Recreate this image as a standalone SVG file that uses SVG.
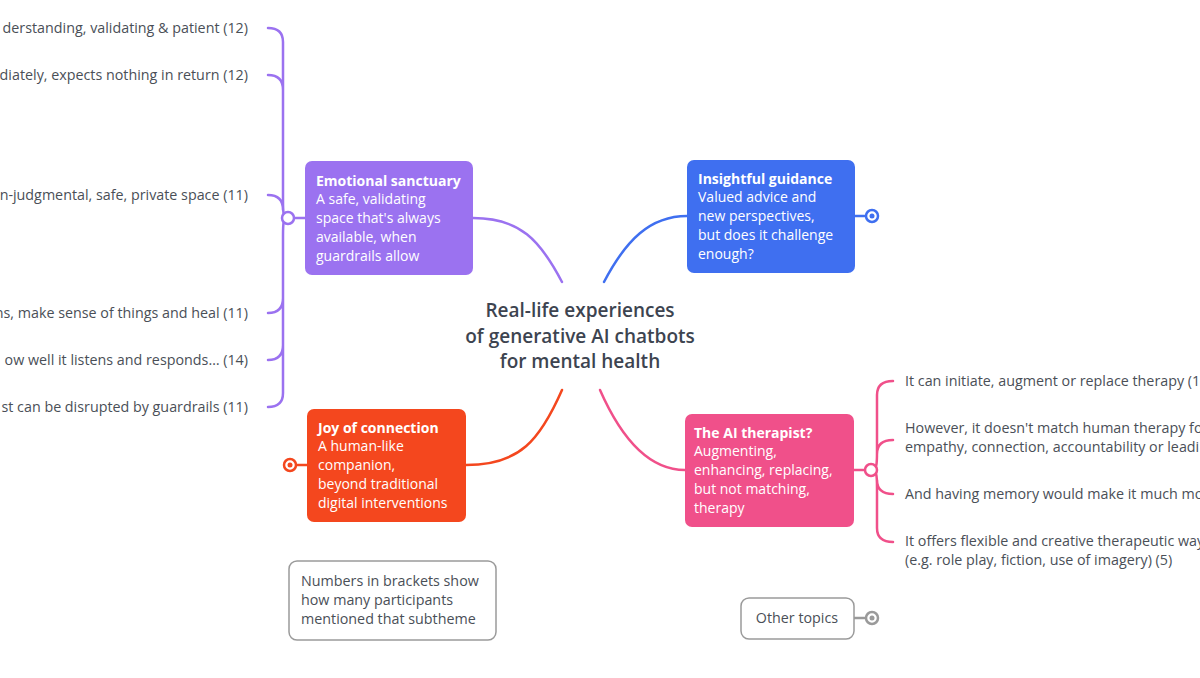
<svg xmlns="http://www.w3.org/2000/svg" width="1200" height="678" viewBox="0 0 1200 678">
<style>
text{font-family:"Open Sans",Lato,sans-serif;}
.it{font-size:14.3px;fill:#4a4f57;}
.ti{font-size:14px;fill:#fff;font-weight:bold;}
.bd{font-size:14px;fill:#fff;}
.c{fill:none;stroke-width:2.5;stroke-linecap:round;}
.hub{fill:#fff;stroke-width:2.5;}
</style>
<rect width="1200" height="678" fill="#fff"/>
<g id="connectors">
<path class="c" stroke="#9b72f0" d="M562,282 C540,240 520,218 473,218"/>
<path class="c" stroke="#3f6ff0" d="M604,282 C626,240 650,216 687,216"/>
<path class="c" stroke="#f4471e" d="M562,390 C540,440 520,465 466,465"/>
<path class="c" stroke="#f0508a" d="M600,390 C622,440 650,470 685,470"/>
<path class="c" stroke="#9b72f0" d="M305,218 H288"/>
<path class="c" stroke="#9b72f0" d="M288,218 C283,218 283,212 283,200 V42 Q283,28 268,28 M283,90 Q283,75 268,75 M283,210 Q283,195 268,195 M288,218 C283,218 283,224 283,236 V393 Q283,407 268,407 M283,298 Q283,313 268,313 M283,345 Q283,360 268,360"/>
<path class="c" stroke="#3f6ff0" d="M855,216 H866"/>
<path class="c" stroke="#f4471e" d="M307,465 H296"/>
<path class="c" stroke="#f0508a" d="M854,470 H871"/>
<path class="c" stroke="#f0508a" d="M871,470 C877,470 877,464 877,452 V395 Q877,381 893,381 M877,454 Q877,440 893,440 M871,470 C877,470 877,476 877,488 V528 Q877,542 893,542 M877,480 Q877,494 893,494"/>
<path class="c" stroke="#9a9a9a" d="M854,618 H866"/>
</g>
<g id="center">
<text x="580" y="317" text-anchor="middle" font-size="19" font-weight="600" fill="#3d4450">Real-life experiences</text>
<text x="580" y="343" text-anchor="middle" font-size="19" font-weight="600" fill="#3d4450">of generative AI chatbots</text>
<text x="580" y="368" text-anchor="middle" font-size="19" font-weight="600" fill="#3d4450">for mental health</text>
</g>
<g id="emotional">
<rect x="305" y="161" width="168" height="114" rx="7" fill="#9b72f0"/>
<text class="ti" x="316" y="186">Emotional sanctuary</text>
<text class="bd" x="316" y="204">A safe, validating</text>
<text class="bd" x="316" y="223">space that's always</text>
<text class="bd" x="316" y="242">available, when</text>
<text class="bd" x="316" y="261">guardrails allow</text>
<circle class="hub" cx="288" cy="218" r="6" stroke="#9b72f0"/>
</g>
<g id="emotional-items">
<text class="it" x="248" y="33" text-anchor="end">derstanding, validating &amp; patient (12)</text>
<text class="it" x="248" y="80" text-anchor="end">diately, expects nothing in return (12)</text>
<text class="it" x="248" y="200" text-anchor="end">n-judgmental, safe, private space (11)</text>
<text class="it" x="248" y="318" text-anchor="end">ns, make sense of things and heal (11)</text>
<text class="it" x="248" y="365" text-anchor="end">ow well it listens and responds… (14)</text>
<text class="it" x="248" y="412" text-anchor="end">st can be disrupted by guardrails (11)</text>
</g>
<g id="insightful">
<rect x="687" y="160" width="168" height="113" rx="7" fill="#3f6ff0"/>
<text class="ti" x="698" y="184">Insightful guidance</text>
<text class="bd" x="698" y="202">Valued advice and</text>
<text class="bd" x="698" y="221">new perspectives,</text>
<text class="bd" x="698" y="240">but does it challenge</text>
<text class="bd" x="698" y="259">enough?</text>
<circle class="hub" cx="872" cy="216" r="6" stroke="#3f6ff0"/>
<circle cx="872" cy="216" r="2.5" fill="#3f6ff0"/>
</g>
<g id="joy">
<rect x="307" y="409" width="159" height="113" rx="7" fill="#f4471e"/>
<text class="ti" x="318" y="433">Joy of connection</text>
<text class="bd" x="318" y="451">A human-like</text>
<text class="bd" x="318" y="470">companion,</text>
<text class="bd" x="318" y="489">beyond traditional</text>
<text class="bd" x="318" y="508">digital interventions</text>
<circle class="hub" cx="290" cy="465" r="6" stroke="#f4471e"/>
<circle cx="290" cy="465" r="2.5" fill="#f4471e"/>
</g>
<g id="therapist">
<rect x="685" y="414" width="169" height="113" rx="7" fill="#f0508a"/>
<text class="ti" x="694" y="438">The AI therapist?</text>
<text class="bd" x="694" y="456">Augmenting,</text>
<text class="bd" x="694" y="475">enhancing, replacing,</text>
<text class="bd" x="694" y="494">but not matching,</text>
<text class="bd" x="694" y="513">therapy</text>
<circle class="hub" cx="871" cy="470" r="6" stroke="#f0508a"/>
</g>
<g id="therapist-items">
<text class="it" x="905" y="386">It can initiate, augment or replace therapy (1</text>
<text class="it" x="905" y="433">However, it doesn't match human therapy fo</text>
<text class="it" x="905" y="452">empathy, connection, accountability or leadi</text>
<text class="it" x="905" y="499">And having memory would make it much mo</text>
<text class="it" x="905" y="546">It offers flexible and creative therapeutic way</text>
<text class="it" x="905" y="565">(e.g. role play, fiction, use of imagery) (5)</text>
</g>
<g id="note">
<rect x="289" y="561" width="207" height="79" rx="8" fill="#fff" stroke="#9a9a9a" stroke-width="1.5"/>
<text class="it" x="301" y="586">Numbers in brackets show</text>
<text class="it" x="301" y="605">how many participants</text>
<text class="it" x="301" y="624">mentioned that subtheme</text>
</g>
<g id="other">
<rect x="741" y="598" width="113" height="41" rx="8" fill="#fff" stroke="#9a9a9a" stroke-width="1.5"/>
<text class="it" x="797" y="623" text-anchor="middle">Other topics</text>
<circle class="hub" cx="872" cy="618" r="6" stroke="#9a9a9a"/>
<circle cx="872" cy="618" r="2.5" fill="#9a9a9a"/>
</g>
</svg>
